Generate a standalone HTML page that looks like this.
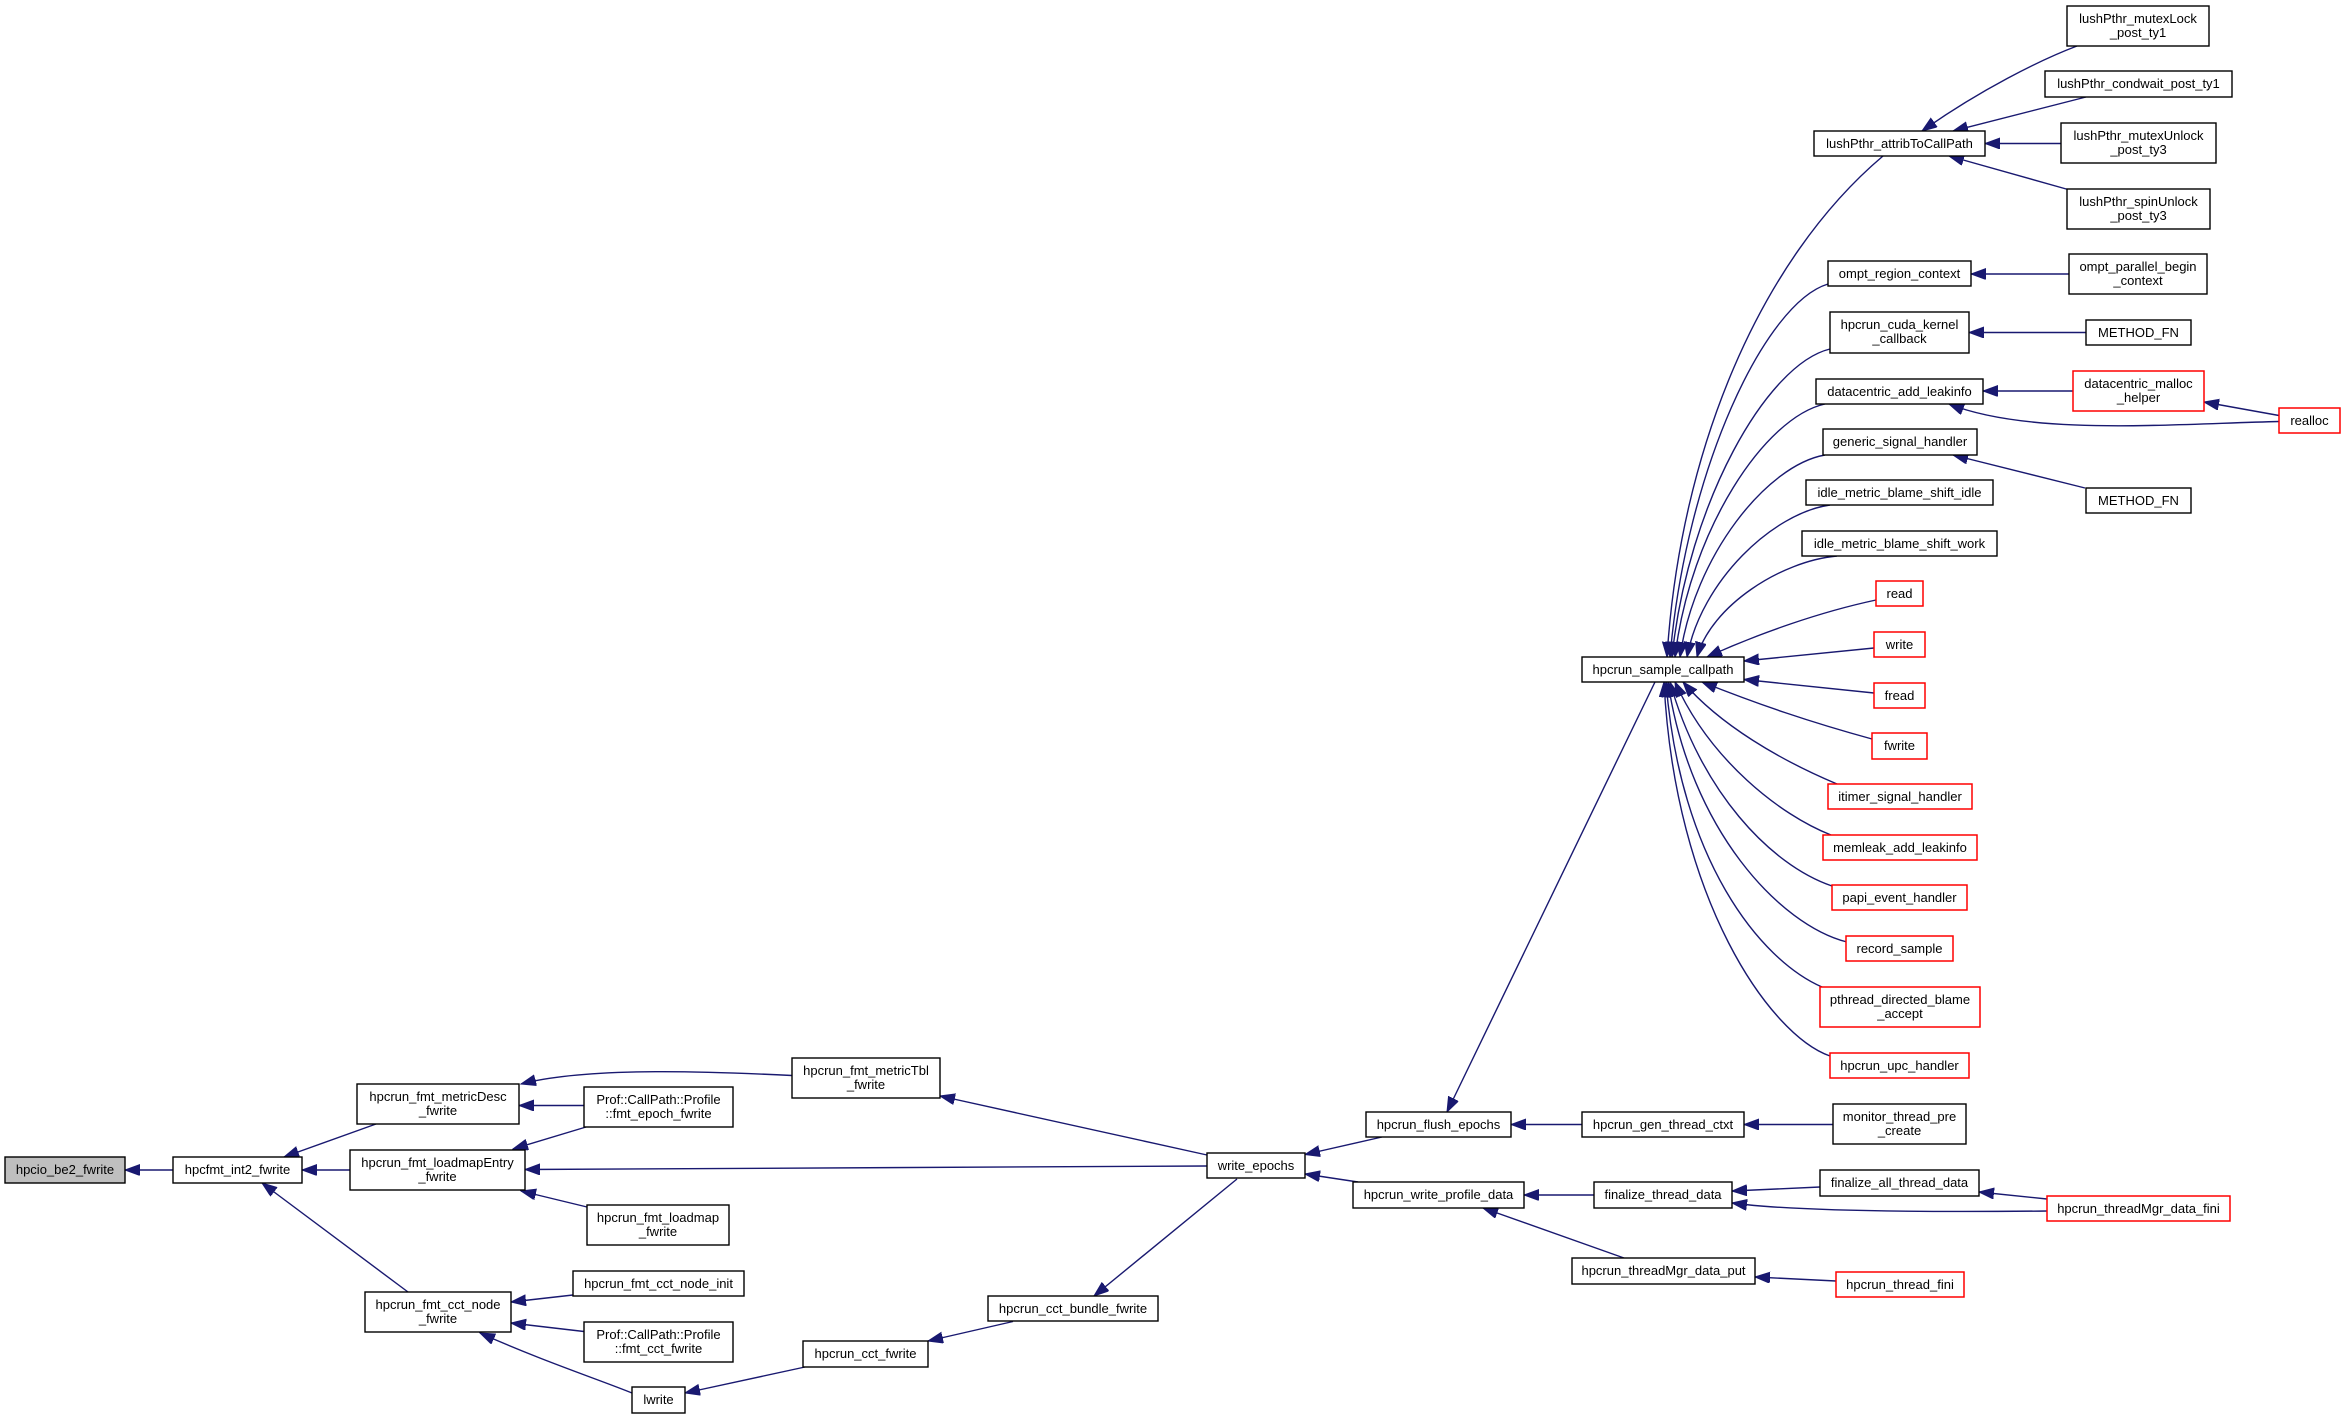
<!DOCTYPE html>
<html><head><meta charset="utf-8"><style>
html,body{margin:0;padding:0;background:#fff;}
svg{display:block;}
text{font-family:"Liberation Sans",Arial,sans-serif;font-size:13px;fill:#000;text-anchor:middle;}
.n{fill:#fff;stroke:#000;stroke-width:1.4;}
.g{fill:#bfbfbf;stroke:#000;stroke-width:1.4;}
.r{fill:#fff;stroke:#ff0000;stroke-width:1.5;}
.e{fill:none;stroke:#191970;stroke-width:1.4;marker-end:url(#ah);}
</style></head><body>
<svg width="2345" height="1419" viewBox="0 0 2345 1419" xmlns="http://www.w3.org/2000/svg">
<defs>
<marker id="ah" markerWidth="16" markerHeight="12" refX="15" refY="5.5" orient="auto" markerUnits="userSpaceOnUse">
<path d="M0,0 L15,5.5 L0,11 z" fill="#191970" stroke="#191970" stroke-width="1"/>
</marker>
</defs>

<!-- edges -->
<path class="e" d="M173,1170 L125,1170"/>
<path class="e" d="M376,1124 L284,1157"/>
<path class="e" d="M350,1170 L302,1170"/>
<path class="e" d="M408,1292 L262,1183"/>
<path class="e" d="M584,1105.5 L519,1105.5"/>
<path class="e" d="M586,1127 L513,1149"/>
<path class="e" d="M792,1075.5 C720,1072 590,1066 521,1084"/>
<path class="e" d="M1207,1166 L525,1169.5"/>
<path class="e" d="M587,1207 L521,1191"/>
<path class="e" d="M573,1295 L511,1302"/>
<path class="e" d="M584,1331.5 L511,1323"/>
<path class="e" d="M632,1393 C600,1380 540,1360 480,1333"/>
<path class="e" d="M805,1367 L685,1393"/>
<path class="e" d="M1207,1155 L940,1096"/>
<path class="e" d="M1237,1179 L1094,1296"/>
<path class="e" d="M1013,1321.5 L928,1341"/>
<path class="e" d="M1382,1137 L1305,1154.5"/>
<path class="e" d="M1358,1182 L1305,1174"/>
<path class="e" d="M1655,682 L1447,1112"/>
<path class="e" d="M1582,1124.5 L1511,1124.5"/>
<path class="e" d="M1833,1124.5 L1744,1124.5"/>
<path class="e" d="M1594,1195 L1524,1195"/>
<path class="e" d="M1624,1258 L1483,1208"/>
<path class="e" d="M1820,1187 L1732,1191"/>
<path class="e" d="M2047,1211 C1950,1212 1800,1212 1732,1203"/>
<path class="e" d="M2047,1199 L1979,1192"/>
<path class="e" d="M1836,1281 L1755,1277"/>

<path class="e" d="M2077,46 C2040,60 1980,90 1922,131"/>
<path class="e" d="M2086,97 L1953,131"/>
<path class="e" d="M2061,143.5 L1985,143.5"/>
<path class="e" d="M2068,189.5 L1949,156"/>
<path class="e" d="M2069,274 L1971,274"/>
<path class="e" d="M2086,332.5 L1969,332.5"/>
<path class="e" d="M2073,391 L1983,391"/>
<path class="e" d="M2279,415.5 L2204,402"/>
<path class="e" d="M2279,421.5 C2170,424 2030,436 1949,404"/>
<path class="e" d="M2085,488 L1953,455"/>

<!-- fan into hpcrun_sample_callpath -->
<path class="e" d="M1883,156 C1760,260 1680,450 1667,657"/>
<path class="e" d="M1828,284 C1765,303 1686,470 1670,657"/>
<path class="e" d="M1830,349 C1767,364 1688,503 1672,657"/>
<path class="e" d="M1825,404 C1765,417 1690,530 1675,657"/>
<path class="e" d="M1825,455 C1767,465 1694,556 1680,657"/>
<path class="e" d="M1830,505 C1773,513 1701,581 1687,657"/>
<path class="e" d="M1837,556 C1781,561 1711,606 1697,657"/>
<path class="e" d="M1876,600 C1820,612 1760,633 1707,657"/>
<path class="e" d="M1874,648 L1744,661"/>
<path class="e" d="M1874,693 L1744,679.5"/>
<path class="e" d="M1872,739 C1810,722 1760,705 1702,682"/>
<path class="e" d="M1837,784 C1780,760 1720,725 1683,682"/>
<path class="e" d="M1831,835 C1780,815 1710,760 1675,682"/>
<path class="e" d="M1832,886 C1770,865 1700,790 1670,682"/>
<path class="e" d="M1847,942 C1780,925 1690,830 1668,682"/>
<path class="e" d="M1822,987 C1760,960 1680,860 1666,682"/>
<path class="e" d="M1830,1056 C1770,1035 1675,900 1664,682"/>

<!-- nodes -->
<rect class="g" x="5" y="1157" width="120" height="26"/><text x="65" y="1174">hpcio_be2_fwrite</text>
<rect class="n" x="173" y="1157" width="129" height="26"/><text x="237.5" y="1174">hpcfmt_int2_fwrite</text>
<rect class="n" x="357" y="1084" width="162" height="40"/><text x="438" y="1101">hpcrun_fmt_metricDesc</text><text x="438" y="1115">_fwrite</text>
<rect class="n" x="350" y="1150" width="175" height="40"/><text x="437.5" y="1167">hpcrun_fmt_loadmapEntry</text><text x="437.5" y="1181">_fwrite</text>
<rect class="n" x="365" y="1292" width="146" height="40"/><text x="438" y="1309">hpcrun_fmt_cct_node</text><text x="438" y="1323">_fwrite</text>
<rect class="n" x="584" y="1087" width="149" height="40"/><text x="658.5" y="1104">Prof::CallPath::Profile</text><text x="658.5" y="1118">::fmt_epoch_fwrite</text>
<rect class="n" x="587" y="1205" width="142" height="40"/><text x="658" y="1222">hpcrun_fmt_loadmap</text><text x="658" y="1236">_fwrite</text>
<rect class="n" x="573" y="1271" width="171" height="25"/><text x="658.5" y="1288">hpcrun_fmt_cct_node_init</text>
<rect class="n" x="584" y="1322" width="149" height="40"/><text x="658.5" y="1339">Prof::CallPath::Profile</text><text x="658.5" y="1353">::fmt_cct_fwrite</text>
<rect class="n" x="632" y="1387" width="53" height="26"/><text x="658.5" y="1404">lwrite</text>
<rect class="n" x="792" y="1058" width="148" height="40"/><text x="866" y="1075">hpcrun_fmt_metricTbl</text><text x="866" y="1089">_fwrite</text>
<rect class="n" x="1207" y="1153" width="98" height="25"/><text x="1256" y="1170">write_epochs</text>
<rect class="n" x="988" y="1296" width="170" height="25"/><text x="1073" y="1313">hpcrun_cct_bundle_fwrite</text>
<rect class="n" x="803" y="1341" width="125" height="26"/><text x="865.5" y="1358">hpcrun_cct_fwrite</text>
<rect class="n" x="1366" y="1112" width="145" height="25"/><text x="1438.5" y="1129">hpcrun_flush_epochs</text>
<rect class="n" x="1582" y="1112" width="162" height="25"/><text x="1663" y="1129">hpcrun_gen_thread_ctxt</text>
<rect class="n" x="1833" y="1104" width="133" height="40"/><text x="1899.5" y="1121">monitor_thread_pre</text><text x="1899.5" y="1135">_create</text>
<rect class="n" x="1353" y="1182" width="171" height="26"/><text x="1438.5" y="1199">hpcrun_write_profile_data</text>
<rect class="n" x="1594" y="1182" width="138" height="26"/><text x="1663" y="1199">finalize_thread_data</text>
<rect class="n" x="1820" y="1170" width="159" height="26"/><text x="1899.5" y="1187">finalize_all_thread_data</text>
<rect class="r" x="2047" y="1196" width="183" height="25"/><text x="2138.5" y="1213">hpcrun_threadMgr_data_fini</text>
<rect class="n" x="1572" y="1258" width="183" height="26"/><text x="1663.5" y="1275">hpcrun_threadMgr_data_put</text>
<rect class="r" x="1836" y="1272" width="128" height="25"/><text x="1900" y="1289">hpcrun_thread_fini</text>

<rect class="n" x="2067" y="6" width="142" height="40"/><text x="2138" y="23">lushPthr_mutexLock</text><text x="2138" y="37">_post_ty1</text>
<rect class="n" x="2045" y="71" width="187" height="26"/><text x="2138.5" y="88">lushPthr_condwait_post_ty1</text>
<rect class="n" x="2061" y="123" width="155" height="40"/><text x="2138.5" y="140">lushPthr_mutexUnlock</text><text x="2138.5" y="154">_post_ty3</text>
<rect class="n" x="2067" y="189" width="143" height="40"/><text x="2138.5" y="206">lushPthr_spinUnlock</text><text x="2138.5" y="220">_post_ty3</text>
<rect class="n" x="1814" y="131" width="171" height="25"/><text x="1899.5" y="148">lushPthr_attribToCallPath</text>
<rect class="n" x="1828" y="261" width="143" height="25"/><text x="1899.5" y="278">ompt_region_context</text>
<rect class="n" x="2069" y="254" width="138" height="40"/><text x="2138" y="271">ompt_parallel_begin</text><text x="2138" y="285">_context</text>
<rect class="n" x="1830" y="312" width="139" height="41"/><text x="1899.5" y="329">hpcrun_cuda_kernel</text><text x="1899.5" y="343">_callback</text>
<rect class="n" x="2086" y="320" width="105" height="25"/><text x="2138.5" y="337">METHOD_FN</text>
<rect class="n" x="1816" y="379" width="167" height="25"/><text x="1899.5" y="396">datacentric_add_leakinfo</text>
<rect class="r" x="2073" y="371" width="131" height="40"/><text x="2138.5" y="388">datacentric_malloc</text><text x="2138.5" y="402">_helper</text>
<rect class="r" x="2279" y="408" width="61" height="25"/><text x="2309.5" y="425">realloc</text>
<rect class="n" x="1823" y="429" width="154" height="26"/><text x="1900" y="446">generic_signal_handler</text>
<rect class="n" x="2086" y="488" width="105" height="25"/><text x="2138.5" y="505">METHOD_FN</text>
<rect class="n" x="1806" y="480" width="187" height="25"/><text x="1899.5" y="497">idle_metric_blame_shift_idle</text>
<rect class="n" x="1802" y="531" width="195" height="25"/><text x="1899.5" y="548">idle_metric_blame_shift_work</text>
<rect class="r" x="1876" y="581" width="47" height="25"/><text x="1899.5" y="598">read</text>
<rect class="r" x="1874" y="632" width="51" height="25"/><text x="1899.5" y="649">write</text>
<rect class="n" x="1582" y="657" width="162" height="25"/><text x="1663" y="674">hpcrun_sample_callpath</text>
<rect class="r" x="1874" y="683" width="51" height="25"/><text x="1899.5" y="700">fread</text>
<rect class="r" x="1872" y="733" width="55" height="26"/><text x="1899.5" y="750">fwrite</text>
<rect class="r" x="1828" y="784" width="144" height="25"/><text x="1900" y="801">itimer_signal_handler</text>
<rect class="r" x="1823" y="835" width="154" height="25"/><text x="1900" y="852">memleak_add_leakinfo</text>
<rect class="r" x="1832" y="885" width="135" height="25"/><text x="1899.5" y="902">papi_event_handler</text>
<rect class="r" x="1846" y="936" width="107" height="25"/><text x="1899.5" y="953">record_sample</text>
<rect class="r" x="1820" y="987" width="160" height="40"/><text x="1900" y="1004">pthread_directed_blame</text><text x="1900" y="1018">_accept</text>
<rect class="r" x="1830" y="1053" width="139" height="25"/><text x="1899.5" y="1070">hpcrun_upc_handler</text>
</svg>
</body></html>
